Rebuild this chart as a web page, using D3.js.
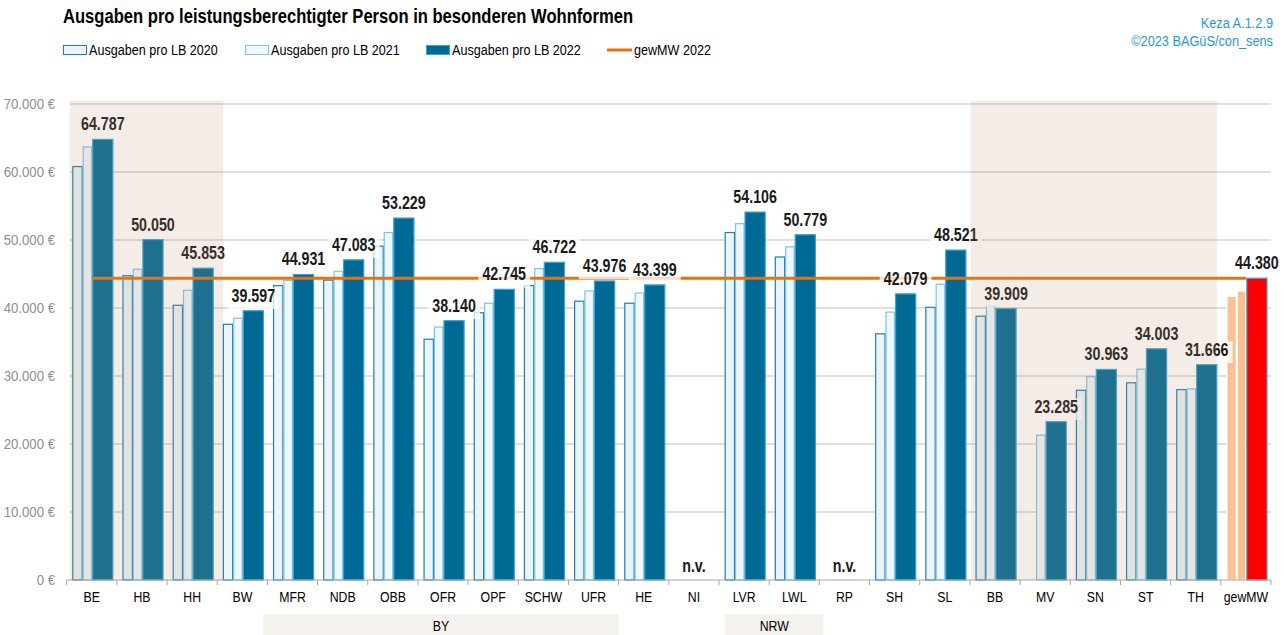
<!DOCTYPE html>
<html><head><meta http-equiv="Content-Type" content="text/html; charset=UTF-8">
<script src="https://d3js.org/d3.v7.min.js"></script>
</head>
<body style="margin:0;background:#fff">
<style>
  svg text { font-family: 'Liberation Sans', Arial, sans-serif; }
</style>
<div id="body"></div>
<script type="text/javascript">

var w = 1284, h = 635;

var categories = ["BE", "HB", "HH", "BW", "MFR", "NDB", "OBB", "OFR", "OPF", "SCHW", "UFR", "HE",
                  "NI", "LVR", "LWL", "RP", "SH", "SL", "BB", "MV", "SN", "ST", "TH", "gewMW"];

var v2020 = [60800, 44750, 40400, 37600, 43300, 44100, 49100, 35400, 39300, 43300, 41000, 40700,
             null, 51100, 47500, null, 36200, 40100, 38800, null, 27900, 29000, 28000, 41700];
var v2021 = [63700, 45700, 42600, 38500, 44050, 45400, 51100, 37200, 40700, 45800, 42500, 42200,
             null, 52400, 49000, null, 39400, 43500, 40300, 21300, 29900, 31000, 28100, 42500];
var v2022 = [64787, 50050, 45853, 39597, 44931, 47083, 53229, 38140, 42745, 46722, 43976, 43399,
             null, 54106, 50779, null, 42079, 48521, 39909, 23285, 30963, 34003, 31666, 44380];

var gewMW2022 = 44380;

var yTicks = [0, 10000, 20000, 30000, 40000, 50000, 60000, 70000];

var seriesNames = ["Ausgaben pro LB 2020", "Ausgaben pro LB 2021", "Ausgaben pro LB 2022"];
var lineName = "gewMW 2022";

var shaded = [["BE", "HH"], ["BB", "TH"]];
var groups = [{name: "BY", from: "MFR", to: "UFR"}, {name: "NRW", from: "LVR", to: "LWL"}];

var x = d3.scaleBand().domain(categories).range([66.7, 1271]);
var y = d3.scaleLinear().domain([0, 70000]).range([580, 104]);
var bw = x.bandwidth();

var de = d3.formatLocale({decimal: ",", thousands: ".", grouping: [3], currency: ["", " €"]});
var fmtNum = de.format(",.0f");

// per series: offset / width as fraction of band, colours
var series = [
  {vals: v2020, off: 0.112, wid: 0.206, fill: "#eaf4fa", stroke: "#1f7fae"},
  {vals: v2021, off: 0.318, wid: 0.190, fill: "#eef7fc", stroke: "#7cc4e6"},
  {vals: v2022, off: 0.508, wid: 0.422, fill: "#006a95", stroke: "#3aa2d4"}
];
var mwFill = ["#fac090", "#fac090", "#ff0000"];
var mwStroke = ["#ffffff", "#ffffff", "#3aa2d4"];

var svg = d3.select("#body").append("svg")
    .attr("width", w)
    .attr("height", h);

// no narrow font installed -> squeeze normal font horizontally
function ntext(parent, px, py, sx) {
    return parent.append("g")
        .attr("transform", "translate(" + px + "," + py + ") scale(" + sx + ",1)");
}

// title
ntext(svg, 63, 23, 0.83).append("text")
    .style("font-size", "20px").style("font-weight", "bold")
    .text("Ausgaben pro leistungsberechtigter Person in besonderen Wohnformen");

ntext(svg, 1273, 28, 0.85).append("text")
    .attr("text-anchor", "end")
    .style("font-size", "15px").style("fill", "#1f9ad6")
    .text("Keza A.1.2.9");
ntext(svg, 1273, 46, 0.85).append("text")
    .attr("text-anchor", "end")
    .style("font-size", "15px").style("fill", "#1f9ad6")
    .text("©2023 BAGüS/con_sens");

// legend
var legX = [63, 245, 426];
series.forEach(function(s, i) {
    svg.append("rect")
        .attr("x", legX[i] + 0.5).attr("y", 45.5)
        .attr("width", 23).attr("height", 9)
        .style("fill", s.fill).style("stroke", s.stroke);
    ntext(svg, legX[i] + 26, 55, 0.84).append("text")
        .style("font-size", "15px")
        .text(seriesNames[i]);
});
svg.append("line")
    .attr("x1", 607).attr("x2", 632).attr("y1", 50).attr("y2", 50)
    .style("stroke", "#e8700f").style("stroke-width", 3);
ntext(svg, 634, 55, 0.84).append("text")
    .style("font-size", "15px")
    .text(lineName);

// grid
svg.selectAll(".grid")
    .data(yTicks.filter(function(d) { return d > 0; }))
    .enter().append("line")
    .attr("x1", 70).attr("x2", 1271)
    .attr("y1", function(d) { return y(d); })
    .attr("y2", function(d) { return y(d); })
    .style("stroke", "#d4d4d4").style("stroke-width", 1.5);

yTicks.forEach(function(d) {
    ntext(svg, 55, y(d) + 5, 0.88).append("text")
        .attr("text-anchor", "end")
        .style("font-size", "15px").style("fill", "#8f8f8f")
        .text(fmtNum(d) + " €");
});

// bars
series.forEach(function(s, si) {
    svg.selectAll(null)
        .data(categories.map(function(c, i) { return {cat: c, v: s.vals[i]}; })
              .filter(function(d) { return d.v != null; }))
        .enter().append("rect")
        .attr("x", function(d) { return x(d.cat) + bw * s.off + 0.5; })
        .attr("width", bw * s.wid - 1)
        .attr("y", function(d) { return y(d.v); })
        .attr("height", function(d) { return y(0) - y(d.v); })
        .style("fill", function(d) { return d.cat == "gewMW" ? mwFill[si] : s.fill; })
        .style("stroke", function(d) { return d.cat == "gewMW" ? mwStroke[si] : s.stroke; })
        .style("stroke-width", 1.2);
});

// x axis
svg.append("line")
    .attr("x1", x.range()[0]).attr("x2", x.range()[1])
    .attr("y1", y(0)).attr("y2", y(0))
    .style("stroke", "#a6a6a6").style("stroke-width", 1);
svg.selectAll(".xtick")
    .data(categories.concat(["end"]))
    .enter().append("line")
    .attr("x1", function(d, i) { return x.range()[0] + i * bw; })
    .attr("x2", function(d, i) { return x.range()[0] + i * bw; })
    .attr("y1", y(0)).attr("y2", y(0) + 5)
    .style("stroke", "#a6a6a6");
categories.forEach(function(c) {
    ntext(svg, x(c) + bw / 2, 602, 0.82).append("text")
        .attr("text-anchor", "middle")
        .style("font-size", "15px")
        .text(c);
});

// mean line
svg.append("line")
    .attr("x1", x("BE") + bw / 2).attr("x2", x("gewMW") + bw / 2)
    .attr("y1", y(gewMW2022)).attr("y2", y(gewMW2022))
    .style("stroke", "#e8700f").style("stroke-width", 3);

// data labels (2022)
categories.forEach(function(c, i) {
    var v = v2022[i];
    var lx = v == null ? x(c) + bw / 2 : x(c) + bw * (series[2].off + series[2].wid / 2);
    var ly = v == null ? 572 : y(v) - 9;
    var g = ntext(svg, lx, ly, 0.815);
    var box = g.append("rect");
    var t = g.append("text")
        .attr("text-anchor", "middle")
        .style("font-size", "17.5px").style("font-weight", "bold").style("fill", "#1a1a1a")
        .text(v == null ? "n.v." : fmtNum(v));
    if (v == null) return;
    var b = t.node().getBBox();
    box.attr("x", b.x - 5).attr("y", b.y + 1)
        .attr("width", b.width + 10).attr("height", b.height + 3)
        .style("fill", "#ffffff").style("fill-opacity", 0.75);
});

// shaded overlays
svg.selectAll(".shade")
    .data(shaded)
    .enter().append("rect")
    .attr("x", function(d, i) { return x(d[0]) + (i == 0 ? 3 : 1); })
    .attr("width", function(d, i) { return x(d[1]) + bw - x(d[0]) + (i == 0 ? 3 : -5); })
    .attr("y", 101)
    .attr("height", y(0) - 101)
    .style("fill", "rgb(186,141,114)").style("fill-opacity", 0.17);

// region group labels
groups.forEach(function(g, i) {
    var x0 = x(g.from) + (i == 0 ? -4 : 6),
        x1 = x(g.to) + bw + (i == 0 ? 0 : 4);
    svg.append("rect")
        .attr("x", x0).attr("y", 614)
        .attr("width", x1 - x0).attr("height", 21)
        .style("fill", "#f5f1ed");
    ntext(svg, (x0 + x1) / 2, 631, 0.82).append("text")
        .attr("text-anchor", "middle")
        .style("font-size", "15px")
        .text(g.name);
});

</script>
</body></html>
